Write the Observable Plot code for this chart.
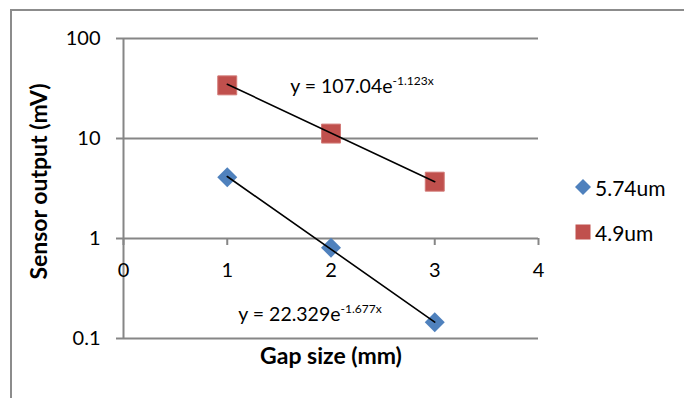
<!DOCTYPE html>
<html>
<head>
<meta charset="utf-8">
<script src="https://cdn.jsdelivr.net/npm/d3@7"></script>
<script src="https://cdn.jsdelivr.net/npm/@observablehq/plot@0.6"></script>
<style>
  html, body { margin: 0; padding: 0; background: #fff; }
  #wrap { position: relative; width: 685px; height: 398px; overflow: hidden; font-family: Lato, "Open Sans", sans-serif; }
  #border { position: absolute; left: 10px; top: 9px; width: 672px; height: 400px; border-left: 2px solid #8c8c8c; border-top: 2px solid #8c8c8c; }
  #chart { position: absolute; left: 0; top: 0; }
  #legend { position: absolute; left: 574px; top: 172px; font-size: 21px; color: #000; }
  #legend .row { display: flex; align-items: center; height: 30px; margin-bottom: 15px; }
  #legend svg { margin-right: 3px; }
</style>
</head>
<body>
<div id="wrap">
  <div id="border"></div>
  <div id="chart"></div>
  <div id="legend"></div>
</div>
<script>
// Data
const gapSize = [1, 2, 3];
const series574 = [4.1, 0.81, 0.145];   // 5.74um (diamonds)
const series49 = [34, 11.2, 3.7];       // 4.9um (squares)
const seriesNames = ["5.74um", "4.9um"];
const seriesColors = ["#4F81BD", "#C0504D"];
// Exponential trendline end points (x = 1 and x = 3)
const trend574 = [[1, 4.17], [3, 0.146]];
const trend49 = [[1, 34.9], [3, 3.70]];
const trendLabels = [
  {main: "y = 22.329e", sup: "-1.677x", x: 2.092, y: 0.151},
  {main: "y = 107.04e", sup: "-1.123x", x: 2.593, y: 28.8}
];
const xTicks = [0, 1, 2, 3, 4];
const yTicks = [0.1, 1, 10, 100];

const pts574 = gapSize.map((x, i) => ({x, y: series574[i]}));
const pts49 = gapSize.map((x, i) => ({x, y: series49[i]}));
const gray = "#868686";

const chart = Plot.plot({
  width: 685,
  height: 398,
  marginLeft: 123,
  marginRight: 147,
  marginTop: 38,
  marginBottom: 60,
  style: {fontFamily: "Lato, 'Open Sans', sans-serif", background: "transparent", overflow: "visible"},
  x: {domain: [0, 4], axis: null},
  y: {type: "log", domain: [0.1, 100]},
  marks: [
    Plot.ruleY(yTicks, {y: d => d, stroke: gray, strokeWidth: 2}),
    Plot.ruleX([0], {stroke: gray, strokeWidth: 2}),
    Plot.ruleX(xTicks, {x: d => d, y1: 1, y2: 1, insetBottom: -7, stroke: gray, strokeWidth: 2}),
    Plot.axisY(yTicks, {tickSize: 7, tickPadding: 16, tickFormat: d => String(d), stroke: gray, strokeWidth: 2, fontSize: 20, label: null, color: "#000"}),
    Plot.text(xTicks, {x: d => d, y: 1, text: d => String(d), dy: 32, fontSize: 20, fill: "#000"}),
    Plot.dot(pts49, {x: "x", y: "y", symbol: "square", r: 10.7, fill: seriesColors[1], stroke: "#d27a77", strokeWidth: 1}),
    Plot.dot(pts574, {x: "x", y: "y", symbol: "diamond2", r: 9, fill: seriesColors[0]}),
    Plot.line(trend574, {x: d => d[0], y: d => d[1], stroke: "#000", strokeWidth: 1.6}),
    Plot.line(trend49, {x: d => d[0], y: d => d[1], stroke: "#000", strokeWidth: 1.6}),
    Plot.text(trendLabels, {x: "x", y: "y", text: "main", textAnchor: "end", lineAnchor: "bottom", fontSize: 19.5, fill: "#000"}),
    Plot.text(trendLabels, {x: "x", y: "y", text: "sup", textAnchor: "start", lineAnchor: "bottom", dy: -8, fontSize: 12, fill: "#000"}),
    Plot.text(["Sensor output (mV)"], {frameAnchor: "left", textAnchor: "middle", dx: -84, dy: -7, rotate: -90, fontSize: 23, fontWeight: "bold", fill: "#000"}),
    Plot.text(["Gap size (mm)"], {frameAnchor: "bottom", dy: 25, fontSize: 23, fontWeight: "bold", fill: "#000"})
  ]
});
document.getElementById("chart").appendChild(chart);

// Legend
const legend = d3.select("#legend");
seriesNames.forEach((name, i) => {
  const row = legend.append("div").attr("class", "row");
  const s = row.append("svg").attr("width", 18).attr("height", 18);
  if (i === 0) {
    s.append("path").attr("d", "M9,1L17,9L9,17L1,9Z").attr("fill", seriesColors[0]);
  } else {
    s.append("rect").attr("x", 1.5).attr("y", 1.5).attr("width", 15).attr("height", 15).attr("fill", seriesColors[1]);
  }
  row.append("span").text(name);
});
</script>
</body>
</html>
